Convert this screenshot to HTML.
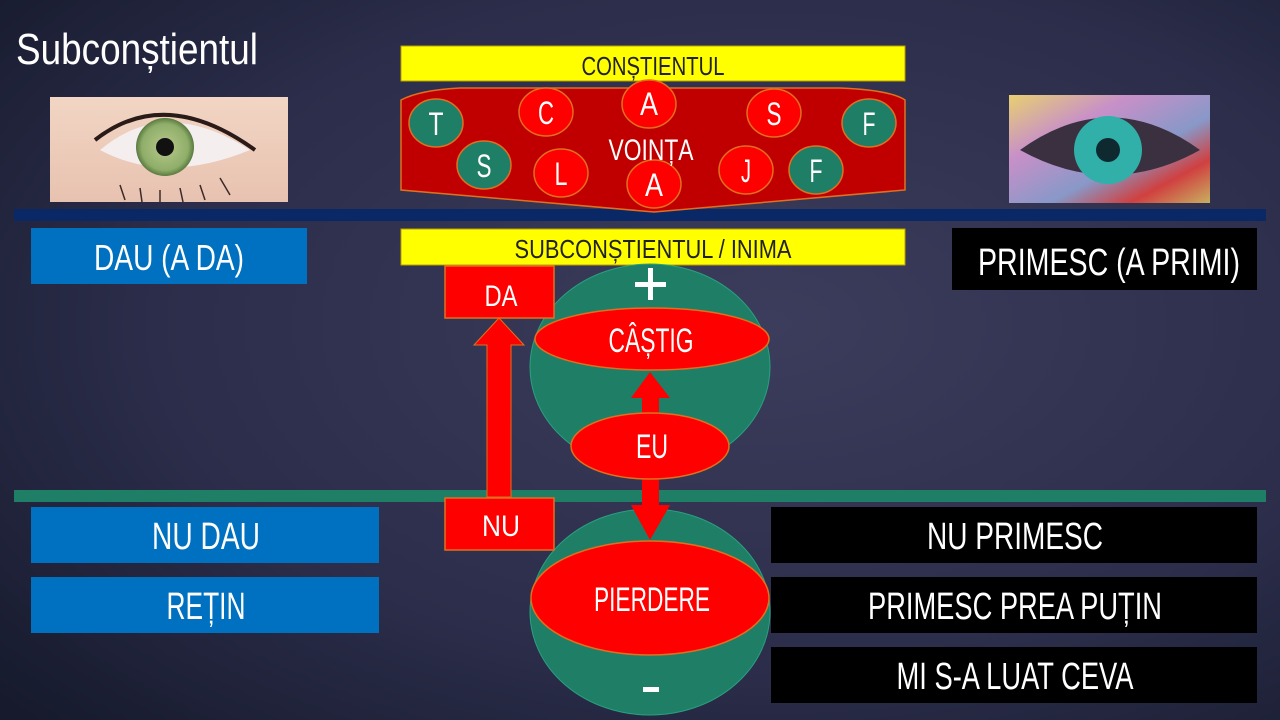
<!DOCTYPE html>
<html><head><meta charset="utf-8"><style>
html,body{margin:0;padding:0;width:1280px;height:720px;overflow:hidden;background:#262c45}
svg{display:block}
text{font-family:"Liberation Sans",sans-serif;fill:#fff}
</style></head><body>
<svg width="1280" height="720" viewBox="0 0 1280 720" xmlns="http://www.w3.org/2000/svg">
<defs>
<radialGradient id="bg" cx="0.6" cy="0.45" r="0.8">
<stop offset="0" stop-color="#3c3d5c"/><stop offset="0.6" stop-color="#2b2d4a"/><stop offset="1" stop-color="#161a2c"/>
</radialGradient>
<radialGradient id="iris" cx="0.5" cy="0.5" r="0.5">
<stop offset="0" stop-color="#b8c88a"/><stop offset="0.8" stop-color="#8fae6a"/><stop offset="1" stop-color="#5a7a40"/>
</radialGradient>
<linearGradient id="skin" x1="0" y1="0" x2="0" y2="1">
<stop offset="0" stop-color="#f2d5c4"/><stop offset="1" stop-color="#e8c2b0"/>
</linearGradient>
<linearGradient id="rain" x1="0" y1="0" x2="1" y2="1">
<stop offset="0" stop-color="#e8d070"/><stop offset="0.3" stop-color="#c890c8"/><stop offset="0.6" stop-color="#8898c8"/><stop offset="0.8" stop-color="#d04040"/><stop offset="1" stop-color="#c8b060"/>
</linearGradient>
</defs>
<rect width="1280" height="720" fill="url(#bg)"/>

<text x="16" y="64" font-size="44" textLength="242" lengthAdjust="spacingAndGlyphs">Subconștientul</text>

<!-- left eye -->
<rect x="50" y="97" width="238" height="105" fill="url(#skin)"/>
<path d="M100 150 Q165 95 250 150 Q165 185 100 150Z" fill="#f4eeee"/>
<circle cx="165" cy="147" r="29" fill="url(#iris)"/>
<circle cx="165" cy="147" r="9" fill="#111"/>
<path d="M95 140 Q165 85 255 150" stroke="#2a1a18" stroke-width="4" fill="none"/>
<path d="M120 185 L125 200 M140 188 L142 202 M160 190 L160 202 M180 188 L183 202 M200 185 L205 200 M220 178 L230 195" stroke="#3a2a28" stroke-width="1.5"/>

<!-- right eye -->
<rect x="1009" y="95" width="201" height="108" fill="url(#rain)"/>
<path d="M1020 150 Q1110 85 1200 150 Q1110 200 1020 150Z" fill="#3a3040"/>
<circle cx="1108" cy="150" r="34" fill="#30b0a8"/>
<circle cx="1108" cy="150" r="12" fill="#0e2a30"/>

<!-- lines -->
<rect x="14" y="209" width="1252" height="12" fill="#0a2866"/>
<rect x="14" y="490" width="1252" height="12" fill="#1e7f66"/>

<!-- top yellow -->
<rect x="401" y="46" width="504" height="35" fill="#ffff00" stroke="#b8a000" stroke-width="1"/>
<text x="653" y="75" font-size="26" style="fill:#222" text-anchor="middle" textLength="143" lengthAdjust="spacingAndGlyphs">CONȘTIENTUL</text>

<!-- red banner -->
<path d="M401 100 Q420 90 460 88 L840 88 Q890 90 905 100 L905 190 L654 212 L401 190Z" fill="#c00000" stroke="#e07020" stroke-width="1.5"/>
<g stroke="#e07020" stroke-width="1.5">
<ellipse cx="436" cy="123" rx="27" ry="24" fill="#1e7f66"/>
<ellipse cx="484" cy="165" rx="27" ry="24" fill="#1e7f66"/>
<ellipse cx="546" cy="112" rx="27" ry="24" fill="#ff0000"/>
<ellipse cx="561" cy="173" rx="27" ry="24" fill="#ff0000"/>
<ellipse cx="649" cy="104" rx="27" ry="24" fill="#ff0000"/>
<ellipse cx="654" cy="184" rx="27" ry="24" fill="#ff0000"/>
<ellipse cx="774" cy="113" rx="27" ry="24" fill="#ff0000"/>
<ellipse cx="746" cy="170" rx="27" ry="24" fill="#ff0000"/>
<ellipse cx="869" cy="123" rx="27" ry="24" fill="#1e7f66"/>
<ellipse cx="816" cy="170" rx="27" ry="24" fill="#1e7f66"/>
</g>
<g font-size="32" text-anchor="middle">
<text x="436" y="135" textLength="15" lengthAdjust="spacingAndGlyphs">T</text>
<text x="484" y="177" textLength="15" lengthAdjust="spacingAndGlyphs">S</text>
<text x="546" y="124" textLength="16" lengthAdjust="spacingAndGlyphs">C</text>
<text x="561" y="185" textLength="13" lengthAdjust="spacingAndGlyphs">L</text>
<text x="649" y="115" textLength="18" lengthAdjust="spacingAndGlyphs">A</text>
<text x="654" y="196" textLength="18" lengthAdjust="spacingAndGlyphs">A</text>
<text x="774" y="125" textLength="15" lengthAdjust="spacingAndGlyphs">S</text>
<text x="746" y="182" textLength="10" lengthAdjust="spacingAndGlyphs">J</text>
<text x="869" y="135" textLength="13" lengthAdjust="spacingAndGlyphs">F</text>
<text x="816" y="182" textLength="13" lengthAdjust="spacingAndGlyphs">F</text>
</g>
<text x="651" y="160" font-size="30" text-anchor="middle" textLength="85" lengthAdjust="spacingAndGlyphs">VOINȚA</text>

<!-- second yellow -->
<rect x="401" y="229" width="504" height="36" fill="#ffff00" stroke="#b8a000" stroke-width="1"/>
<text x="653" y="258" font-size="26" style="fill:#222" text-anchor="middle" textLength="277" lengthAdjust="spacingAndGlyphs">SUBCONȘTIENTUL / INIMA</text>

<!-- side boxes -->
<rect x="31" y="228" width="276" height="56" fill="#0070c0"/>
<text x="169" y="270" font-size="36" text-anchor="middle" textLength="150" lengthAdjust="spacingAndGlyphs">DAU (A DA)</text>
<rect x="952" y="228" width="305" height="62" fill="#000"/>
<text x="1109" y="275" font-size="38" text-anchor="middle" textLength="262" lengthAdjust="spacingAndGlyphs">PRIMESC (A PRIMI)</text>

<rect x="31" y="507" width="348" height="56" fill="#0070c0"/>
<text x="206" y="549" font-size="38" text-anchor="middle" textLength="108" lengthAdjust="spacingAndGlyphs">NU DAU</text>
<rect x="31" y="577" width="348" height="56" fill="#0070c0"/>
<text x="206" y="619" font-size="38" text-anchor="middle" textLength="79" lengthAdjust="spacingAndGlyphs">REȚIN</text>

<rect x="771" y="507" width="486" height="56" fill="#000"/>
<text x="1015" y="549" font-size="38" text-anchor="middle" textLength="176" lengthAdjust="spacingAndGlyphs">NU PRIMESC</text>
<rect x="771" y="577" width="486" height="56" fill="#000"/>
<text x="1015" y="619" font-size="38" text-anchor="middle" textLength="294" lengthAdjust="spacingAndGlyphs">PRIMESC PREA PUȚIN</text>
<rect x="771" y="647" width="486" height="56" fill="#000"/>
<text x="1015" y="689" font-size="38" text-anchor="middle" textLength="237" lengthAdjust="spacingAndGlyphs">MI S-A LUAT CEVA</text>

<!-- circles -->
<ellipse cx="650" cy="367" rx="120" ry="103" fill="#1e7f66" stroke="#2aa080" stroke-width="1"/>
<ellipse cx="650" cy="612" rx="120" ry="103" fill="#1e7f66" stroke="#2aa080" stroke-width="1"/>
<rect x="648" y="268" width="5" height="32" fill="#fff"/>
<rect x="635" y="282" width="31" height="5" fill="#fff"/>
<rect x="643" y="687" width="16" height="5" fill="#fff"/>

<!-- arrows -->
<polygon points="487,497 487,345 474,345 499,318 524,345 511,345 511,497" fill="#ff0000" stroke="#e07020" stroke-width="1"/>
<polygon points="642,415 642,398 631,398 650,372 670,398 659,398 659,415" fill="#ff0000"/>
<polygon points="642,478 642,505 631,505 650,540 670,505 659,505 659,478" fill="#ff0000"/>

<!-- red boxes -->
<rect x="445" y="266" width="109" height="52" fill="#ff0000" stroke="#e07020" stroke-width="1.5"/>
<text x="501" y="306" font-size="30" text-anchor="middle" textLength="33" lengthAdjust="spacingAndGlyphs">DA</text>
<rect x="445" y="498" width="109" height="52" fill="#ff0000" stroke="#e07020" stroke-width="1.5"/>
<text x="501" y="536" font-size="30" text-anchor="middle" textLength="38" lengthAdjust="spacingAndGlyphs">NU</text>

<!-- ellipses -->
<g stroke="#e07020" stroke-width="1.5" fill="#ff0000">
<ellipse cx="652" cy="339" rx="117" ry="31"/>
<ellipse cx="650" cy="446" rx="79" ry="33"/>
<ellipse cx="650" cy="598" rx="119" ry="57"/>
</g>
<text x="651" y="352" font-size="34" text-anchor="middle" textLength="85" lengthAdjust="spacingAndGlyphs">CÂȘTIG</text>
<text x="652" y="458" font-size="34" text-anchor="middle" textLength="32" lengthAdjust="spacingAndGlyphs">EU</text>
<text x="652" y="611" font-size="34" text-anchor="middle" textLength="116" lengthAdjust="spacingAndGlyphs">PIERDERE</text>
</svg>
</body></html>
